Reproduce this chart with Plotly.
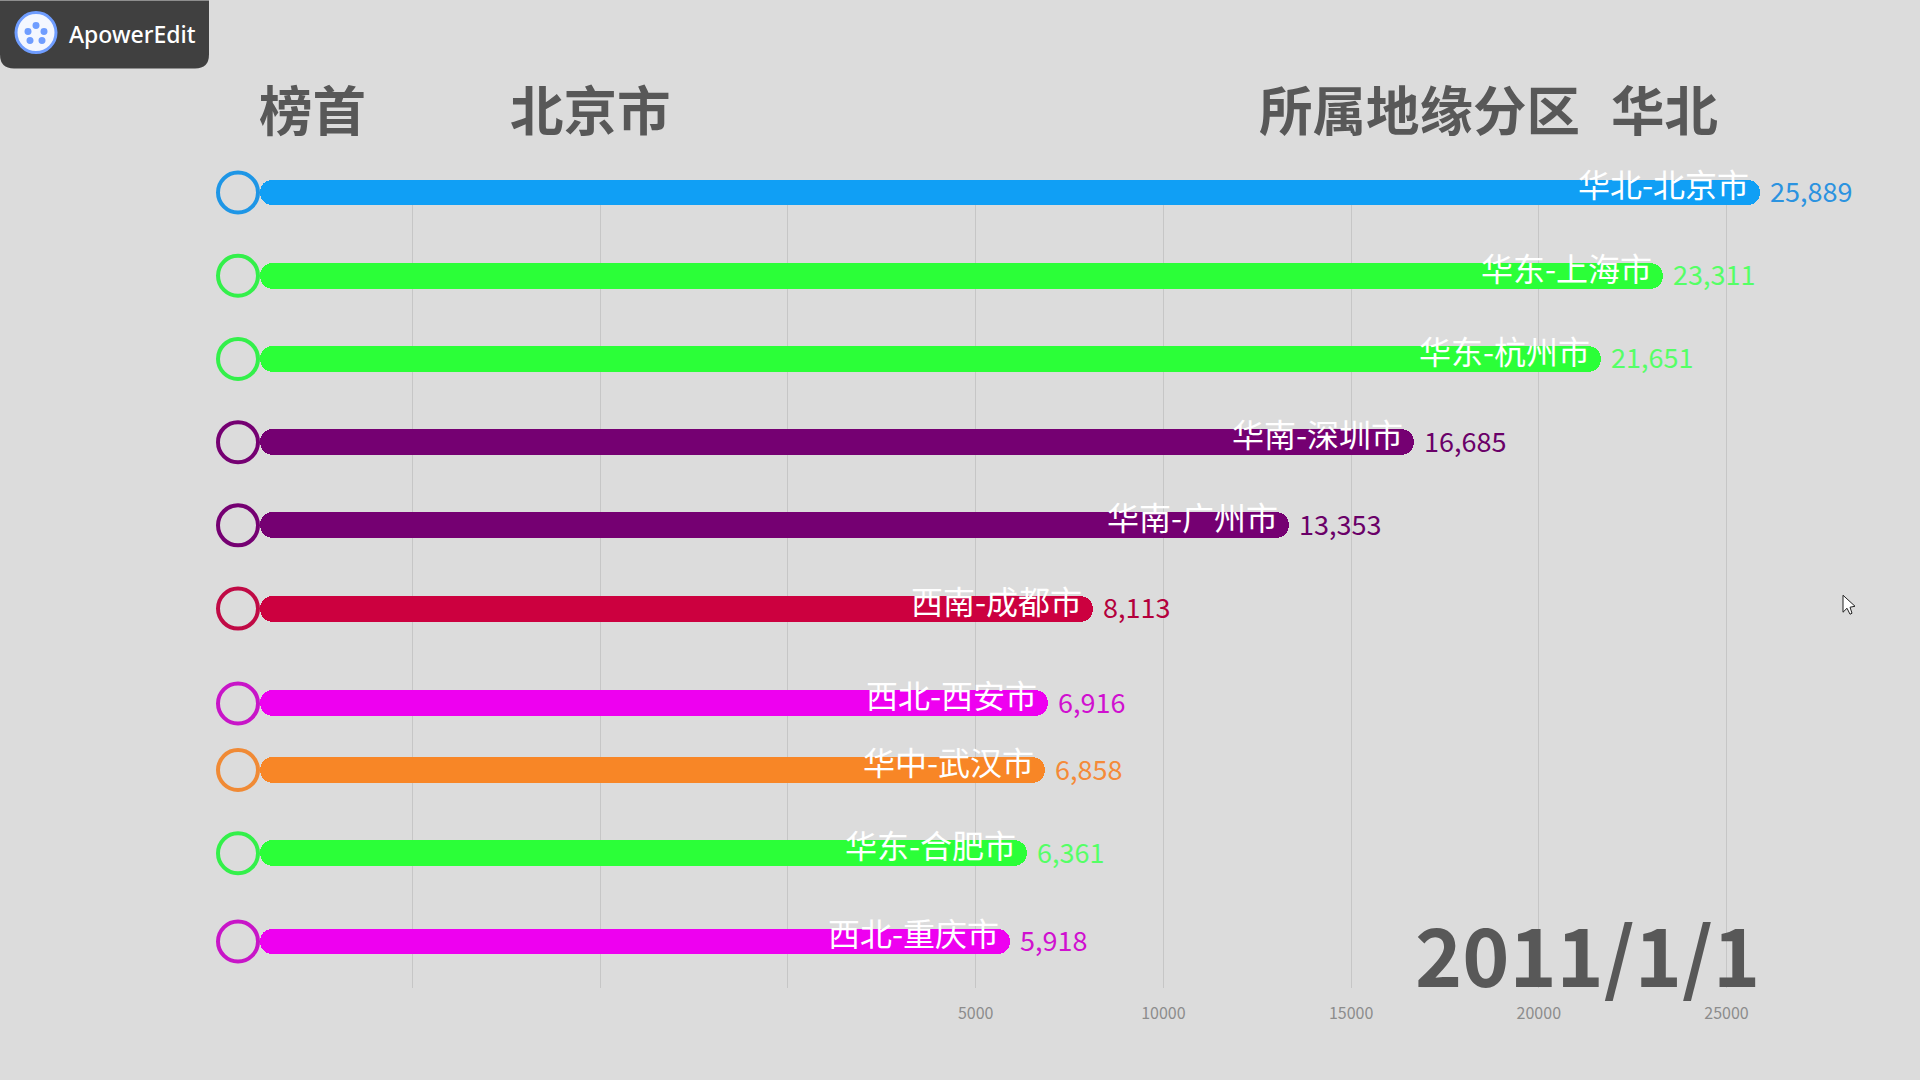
import plotly.graph_objects as go

W, H = 1920, 1080
FONT = "Noto Sans CJK SC"

# data, top row first
cities = ["华北-北京市", "华东-上海市", "华东-杭州市", "华南-深圳市", "华南-广州市",
          "西南-成都市", "西北-西安市", "华中-武汉市", "华东-合肥市", "西北-重庆市"]
values = [25889, 23311, 21651, 16685, 13353, 8113, 6916, 6858, 6361, 5918]
# rows are caught mid animation, so they are not evenly spaced
rows = [0, 1, 2, 3, 4, 5, 6.14, 6.94, 7.94, 9.0]

bar_colors = ["#109ff5", "#2bff38", "#2bff38", "#750072", "#750072",
              "#cc003f", "#ee00f0", "#f88626", "#2bff38", "#ee00f0"]
ring_colors = ["#1e96e6", "#33f04a", "#33f04a", "#750072", "#750072",
               "#c00a45", "#c815c8", "#f08a35", "#33f04a", "#c815c8"]
value_colors = ["#2b93e0", "#55ff66", "#55ff66", "#6a0068", "#6a0068",
                "#b4003c", "#d010d0", "#f58a38", "#55ff66", "#d010d0"]

tick_vals = [-10000, -5000, 0, 5000, 10000, 15000, 20000, 25000]
tick_text = ["", "", "", "5000", "10000", "15000", "20000", "25000"]

BAR_START = -14070  # bars begin far left of zero in the source video
RING_X = -14650
X_RANGE = [-20990, 30154]
Y_RANGE = [9.559, -0.15]
PLOT_TOP, PLOT_BOTTOM = 179.5, 988


def px(x):
    return x / W


def py(y):
    return (PLOT_BOTTOM - y) / (PLOT_BOTTOM - PLOT_TOP)


fig = go.Figure()

# Bars, both ends rounded
fig.add_trace(go.Bar(
    y=rows, x=[v - BAR_START for v in values], base=BAR_START,
    orientation="h", width=0.312,
    marker=dict(color=bar_colors, cornerradius=13, line_width=0),
    cliponaxis=False, showlegend=False,
))

# Rings
fig.add_trace(go.Scatter(
    y=rows, x=[RING_X] * len(rows), mode="markers",
    marker=dict(size=40, color="rgba(0,0,0,0)", line=dict(width=4, color=ring_colors)),
    cliponaxis=False, showlegend=False,
))

# Labels on and after the bars
for city, val, row, vcol in zip(cities, values, rows, value_colors):
    fig.add_annotation(x=val, y=row, text=city, showarrow=False, xanchor="right",
                       xshift=-9, yshift=9, font=dict(family=FONT, size=32, color="white"))
    fig.add_annotation(x=val, y=row, text=f"{val:,}", showarrow=False, xanchor="left",
                       xshift=8, yshift=2, font=dict(family=FONT, size=27, color=vcol))

# Headers and date
headers = [("榜首", 312.5, 107, 53.5), ("北京市", 590, 107, 53.5), ("所属地缘分区", 1419, 107, 53.5),
           ("华北", 1664, 107, 53.5), ("2011/1/1", 1587, 952, 80)]
for text, hx, hy, size in headers:
    fig.add_annotation(xref="paper", yref="paper", x=px(hx), y=py(hy), text=text,
                       showarrow=False,
                       font=dict(family=FONT, size=size, color="#585858", weight=700),
                       xanchor="center", yanchor="middle")

# ApowerEdit watermark
badge = (f"M {px(0)} {py(0)} L {px(209)} {py(0)} L {px(209)} {py(54)} "
         f"Q {px(209)} {py(68)} {px(195)} {py(68)} L {px(14)} {py(68)} "
         f"Q {px(0)} {py(68)} {px(0)} {py(54)} Z")
cursor = (f"M {px(1843)} {py(595)} L {px(1843)} {py(612)} L {px(1847)} {py(608)} "
          f"L {px(1850)} {py(614)} L {px(1852)} {py(613)} L {px(1850)} {py(607)} "
          f"L {px(1855)} {py(606)} Z")
shapes = [
    dict(type="path", path=badge, xref="paper", yref="paper", fillcolor="#404040", line_width=0),
    dict(type="circle", xref="paper", yref="paper", x0=px(16), x1=px(56), y0=py(52), y1=py(12),
         fillcolor="#f4f7ff", line=dict(color="#6f9dff", width=3)),
    dict(type="path", path=cursor, xref="paper", yref="paper", fillcolor="#ffffff",
         line=dict(color="#222222", width=1)),
]
for cx, cy in [(36, 25), (28, 31), (44, 31), (30, 40), (42, 40)]:
    shapes.append(dict(type="circle", xref="paper", yref="paper", x0=px(cx - 3.5), x1=px(cx + 3.5),
                       y0=py(cy + 3.5), y1=py(cy - 3.5), fillcolor="#6f9dff", line_width=0))

fig.add_annotation(xref="paper", yref="paper", x=px(132), y=py(33), text="ApowerEdit",
                   showarrow=False,
                   font=dict(family="Noto Sans", size=23, color="white", weight=500),
                   xanchor="center", yanchor="middle")

fig.update_layout(
    width=W, height=H,
    margin=dict(l=0, r=0, t=PLOT_TOP, b=H - PLOT_BOTTOM, pad=0),
    paper_bgcolor="#dcdcdc", plot_bgcolor="#dcdcdc",
    shapes=shapes,
    bargap=0,
    showlegend=False,
    xaxis=dict(range=X_RANGE, tickvals=tick_vals, ticktext=tick_text, showgrid=True,
               gridcolor="#c6c6c6", gridwidth=1, zeroline=False, showline=False, ticks="",
               ticklabelstandoff=14,
               tickfont=dict(family=FONT, size=16, color="#8c8c8c")),
    yaxis=dict(range=Y_RANGE, visible=False),
)

fig.write_html("out.html", config=dict(displayModeBar=False),
               post_script="document.body.style.margin='0';")
